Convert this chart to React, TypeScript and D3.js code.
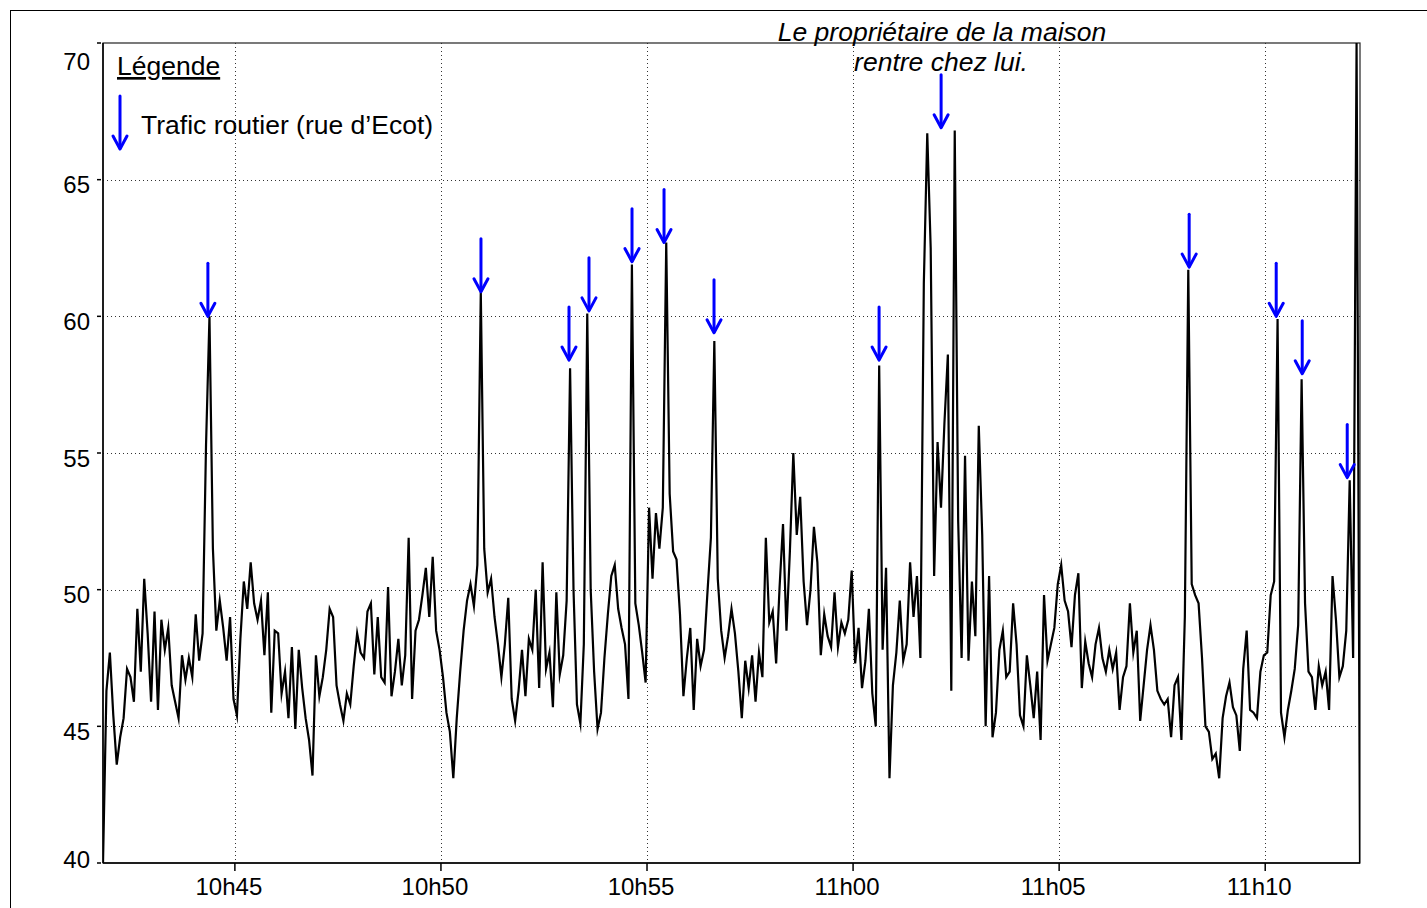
import React from "react";
import * as d3 from "d3";

// minutes after 10h40 of the first sample, and sampling step
const START_MIN = 1.8;
const STEP_SEC = 5;

// sound level (dB) read every 5 s from 10h41m48s
const levels: number[] = [
  40, 46.3, 47.7, 45.4, 43.6, 44.6, 45.3, 47.1, 46.8, 45.9,
  49.3, 47.0, 50.4, 48.4, 45.9, 49.2, 45.6, 48.9, 47.8, 48.6,
  46.5, 45.9, 45.3, 47.6, 46.7, 47.5, 46.8, 49.1, 47.4, 48.4,
  55.3, 60.0, 51.5, 48.5, 49.6, 48.6, 47.4, 49.0, 46.0, 45.4,
  48.2, 50.3, 49.3, 51.0, 49.5, 48.9, 49.6, 47.6, 49.9, 45.5,
  48.5, 48.4, 46.2, 47.0, 45.3, 47.9, 44.9, 47.8, 46.4, 45.3,
  44.5, 43.2, 47.6, 46.1, 46.8, 47.8, 49.3, 49.0, 46.5, 45.8,
  45.2, 46.2, 45.8, 47.2, 48.4, 47.7, 47.5, 49.2, 49.5, 46.9,
  49.0, 46.8, 46.6, 50.1, 46.1, 47.0, 48.2, 46.5, 47.6, 51.9,
  46.0, 48.5, 48.9, 49.8, 50.8, 49.0, 51.2, 48.5, 47.8, 46.8,
  45.5, 44.8, 43.1, 45.3, 47.0, 48.5, 49.6, 50.2, 49.4, 50.9,
  60.9, 51.5, 49.9, 50.4, 49.0, 48.0, 46.8, 48.0, 49.7, 46.0,
  45.2, 46.3, 47.8, 46.1, 48.2, 47.8, 50.0, 46.4, 51.0, 47.1,
  47.7, 45.7, 49.9, 46.9, 47.6, 49.6, 58.1, 50.0, 45.8, 45.1,
  48.0, 60.1, 50.0, 47.0, 44.9, 45.5, 47.5, 49.1, 50.5, 50.9,
  49.3, 48.6, 48.0, 46.0, 61.9, 49.5, 48.7, 47.7, 46.6, 53.0,
  50.4, 52.8, 51.5, 53.0, 62.7, 53.5, 51.4, 51.1, 49.1, 46.1,
  47.5, 48.6, 45.6, 48.2, 47.2, 47.8, 49.9, 51.9, 59.1, 50.4,
  48.5, 47.5, 48.3, 49.3, 48.4, 47.0, 45.3, 47.4, 46.4, 47.6,
  45.9, 47.7, 46.8, 51.9, 48.8, 49.2, 47.3, 50.1, 52.4, 48.5,
  51.4, 55.0, 52.0, 53.4, 50.3, 48.7, 50.0, 52.3, 51.0, 47.6,
  49.1, 48.3, 47.9, 49.9, 47.9, 48.8, 48.4, 48.9, 50.7, 47.3,
  48.6, 46.4, 47.4, 49.3, 46.2, 45.0, 58.2, 47.8, 50.8, 43.1,
  46.5, 47.7, 49.6, 47.4, 48.0, 51.0, 49.0, 50.5, 47.5, 61.2,
  66.7, 62.5, 50.5, 55.4, 53.0, 56.1, 58.6, 46.3, 66.8, 52.5,
  47.5, 54.9, 47.4, 50.3, 48.3, 56.0, 52.0, 45.0, 50.5, 44.6,
  45.5, 47.8, 48.5, 46.8, 47.0, 49.5, 48.0, 45.4, 45.0, 47.6,
  46.5, 45.3, 47.0, 44.5, 49.8, 47.4, 48.0, 48.6, 50.2, 50.9,
  49.6, 49.2, 47.9, 49.8, 50.6, 46.4, 48.1, 47.3, 46.8, 48.0,
  48.6, 47.5, 47.0, 47.8, 47.1, 47.7, 45.6, 46.8, 47.2, 49.5,
  47.7, 48.5, 45.2, 46.5, 47.8, 48.7, 47.8, 46.3, 46.0, 45.8,
  46.0, 44.6, 46.5, 46.8, 44.5, 49.0, 61.7, 50.2, 49.8, 49.5,
  47.5, 45.0, 44.8, 43.8, 44.0, 43.1, 45.3, 46.1, 46.6, 45.7,
  45.4, 44.1, 47.1, 48.5, 45.6, 45.5, 45.3, 47.0, 47.6, 47.7,
  49.8, 50.3, 59.9, 45.5, 44.6, 45.6, 46.3, 47.1, 48.7, 57.7,
  49.5, 47.0, 46.8, 45.6, 47.2, 46.5, 47.0, 45.6, 50.5, 48.9,
  46.8, 47.2, 48.5, 54.0, 47.5, 70, 40,
];

const xTickMinutes = [5, 10, 15, 20, 25, 30];
const xTickLabels = ["10h45", "10h50", "10h55", "11h00", "11h05", "11h10"];
const yTicks = [40, 45, 50, 55, 60, 65, 70];

// traffic arrows: time (minutes after 10h40) and level at the arrow tip
const arrowMinutes = [4.345, 10.971, 13.107, 13.592, 14.636, 15.413, 16.626, 20.631, 22.136, 28.155, 30.267, 30.898, 31.99];
const arrowLevels = [60.0, 60.9, 58.4, 60.2, 62.0, 62.7, 59.4, 58.4, 66.9, 61.8, 60.0, 57.9, 54.1];

const FONT = "'Liberation Sans', Arial, Helvetica, sans-serif";
const BLUE = "#0000ff";

function Arrow({ x, tip }: { x: number; tip: number }) {
  const len = 53;
  return (
    <g stroke={BLUE} strokeWidth={3} fill="none" strokeLinecap="round" strokeLinejoin="round">
      <line x1={x} y1={tip - len} x2={x} y2={tip - 1} />
      <polyline points={`${x - 7},${tip - 13} ${x},${tip} ${x + 7},${tip - 13}`} />
    </g>
  );
}

export default function App() {
  const W = 1427;
  const H = 908;
  const left = 103, right = 1360, top = 43, bottom = 863;

  const x = d3.scaleLinear().domain([1.8, 32.3]).range([left, right]);
  const y = d3.scaleLinear().domain([40, 70]).range([bottom, top]);

  const line = d3
    .line<number>()
    .x((_, i) => x(START_MIN + (i * STEP_SEC) / 60))
    .y((d) => y(d));

  const labelY = (v: number) => {
    if (v === 70) return 61;
    if (v === 40) return 859;
    return y(v) + 5;
  };

  return (
    <svg
      width={W}
      height={H}
      style={{ position: "absolute", left: 0, top: 0, background: "#fff" }}
      fontFamily={FONT}
    >
      <rect x={0} y={0} width={W} height={H} fill="#fff" />
      {/* outer frame */}
      <line x1={10} y1={10.5} x2={W} y2={10.5} stroke="#000" strokeWidth={1} />
      <line x1={10.5} y1={10} x2={10.5} y2={H} stroke="#000" strokeWidth={1} />

      <defs>
        <clipPath id="plotclip">
          <rect x={left} y={top} width={right - left} height={bottom - top} />
        </clipPath>
      </defs>

      {/* grid */}
      <g stroke="#333" strokeWidth={1} strokeDasharray="1,3">
        {xTickMinutes.map((m) => (
          <line key={"gx" + m} x1={Math.round(x(m)) + 0.5} x2={Math.round(x(m)) + 0.5} y1={top} y2={bottom} />
        ))}
        {yTicks
          .filter((v) => v > 40 && v < 70)
          .map((v) => (
            <line key={"gy" + v} x1={left} x2={right} y1={Math.round(y(v)) + 0.5} y2={Math.round(y(v)) + 0.5} />
          ))}
      </g>

      {/* frame of plot */}
      <rect x={left} y={top} width={right - left} height={bottom - top} fill="none" stroke="#222" strokeWidth={1.2} />
      <line x1={left} x2={left} y1={top} y2={bottom} stroke="#000" strokeWidth={1.5} />
      <line x1={left} x2={right} y1={bottom} y2={bottom} stroke="#000" strokeWidth={1.5} />

      {/* y ticks and labels */}
      {yTicks.map((v) => (
        <g key={"yt" + v}>
          <line x1={97} x2={101} y1={y(v)} y2={y(v)} stroke="#000" strokeWidth={1.5} />
          <text x={90} y={labelY(v)} textAnchor="end" dominantBaseline="central" fontSize={24} fill="#000">
            {v}
          </text>
        </g>
      ))}

      {/* x ticks and labels */}
      {xTickMinutes.map((m, i) => (
        <g key={"xt" + m}>
          <line x1={x(m)} x2={x(m)} y1={bottom} y2={bottom + 8} stroke="#000" strokeWidth={1.5} />
          <text x={x(m) - 6} y={886} textAnchor="middle" dominantBaseline="central" fontSize={24} fill="#000">
            {xTickLabels[i]}
          </text>
        </g>
      ))}

      {/* data */}
      <path
        d={line(levels) || ""}
        fill="none"
        stroke="#000"
        strokeWidth={2.2}
        strokeLinejoin="miter"
        strokeMiterlimit={10}
        clipPath="url(#plotclip)"
      />

      {/* arrows */}
      {arrowMinutes.map((m, i) => (
        <Arrow key={"ar" + i} x={x(m)} tip={y(arrowLevels[i])} />
      ))}

      {/* legend */}
      <text x={117} y={75} fontSize={26.5} fill="#000" textDecoration="underline">
        Légende
      </text>
      <Arrow x={120} tip={149} />
      <text x={141} y={134} fontSize={26.5} fill="#000">
        Trafic routier (rue d’Ecot)
      </text>

      {/* annotation */}
      <text x={942} y={41} textAnchor="middle" fontSize={26.5} fontStyle="italic" fill="#000">
        Le propriétaire de la maison
      </text>
      <text x={941} y={71} textAnchor="middle" fontSize={26.5} fontStyle="italic" fill="#000">
        rentre chez lui.
      </text>
    </svg>
  );
}
